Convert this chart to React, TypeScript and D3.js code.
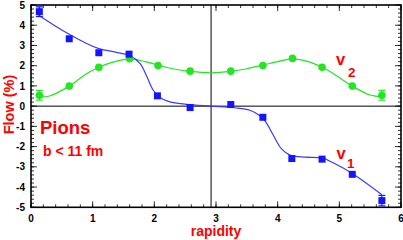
import React from "react";
import * as d3 from "d3";

const v1X = [0.135, 0.62, 1.1, 1.59, 2.05, 2.58, 3.24, 3.76, 4.23, 4.72, 5.21, 5.69];
const v1Y = [4.67, 3.33, 2.64, 2.57, 0.51, -0.07, 0.08, -0.55, -2.59, -2.62, -3.37, -4.67];
const v1Err = [0.24, 0.08, 0.08, 0.08, 0.08, 0.08, 0.08, 0.08, 0.08, 0.08, 0.08, 0.26];

const v2X = [0.135, 0.62, 1.1, 1.6, 2.06, 2.58, 3.24, 3.76, 4.24, 4.72, 5.21, 5.69];
const v2Y = [0.54, 0.99, 1.92, 2.34, 2.01, 1.73, 1.73, 2.01, 2.36, 1.92, 0.99, 0.54];
const v2Err = [0.24, 0.08, 0.08, 0.08, 0.08, 0.08, 0.08, 0.08, 0.08, 0.08, 0.08, 0.24];

const fit1X = [0.13, 0.4, 0.62, 0.9, 1.1, 1.4, 1.6, 1.77, 1.88, 1.98, 2.09, 2.25, 2.52, 2.92, 3.3, 3.55, 3.7, 3.8, 3.93, 4.06, 4.2, 4.45, 4.72, 4.9, 5.21, 5.69];
const fit1Y = [4.48, 3.95, 3.55, 3.1, 2.84, 2.65, 2.5, 2.1, 1.45, 0.8, 0.43, 0.21, 0.09, 0.0, -0.08, -0.2, -0.45, -0.75, -1.44, -2.1, -2.42, -2.52, -2.56, -2.8, -3.33, -4.38];

const fit2X = [0.13, 0.3, 0.62, 0.9, 1.1, 1.3, 1.6, 1.85, 2.06, 2.3, 2.58, 2.92, 3.24, 3.5, 3.76, 4.0, 4.24, 4.5, 4.72, 4.95, 5.21, 5.5, 5.69];
const fit2Y = [0.46, 0.5, 0.99, 1.6, 1.92, 2.15, 2.34, 2.2, 2.03, 1.85, 1.72, 1.65, 1.72, 1.85, 2.03, 2.2, 2.34, 2.2, 1.92, 1.52, 0.99, 0.55, 0.46];

const xTicks = [0, 1, 2, 3, 4, 5, 6];
const yTicks = [-5, -4, -3, -2, -1, 0, 1, 2, 3, 4, 5];
const midRapidity = 2.92;

const BLUE = "#1414ff";
const BLUE_LINE = "#3a3aff";
const GREEN = "#22e622";
const RED = "#ff0000";
const FONT = "'Liberation Sans', Arial, Helvetica, sans-serif";

export default function App() {
  const W = 403, H = 240;
  const x = d3.scaleLinear().domain([0, 6]).range([31, 401]);
  const y = d3.scaleLinear().domain([-5, 5]).range([207.3, 5]);
  const [x0, x1] = x.range();
  const [yb, yt] = y.range();

  const line = d3.line<[number, number]>().x(d => x(d[0])).y(d => y(d[1])).curve(d3.curveCatmullRom.alpha(0.5));
  const fit1 = fit1X.map((v, i) => [v, fit1Y[i]] as [number, number]);
  const fit2 = fit2X.map((v, i) => [v, fit2Y[i]] as [number, number]);

  const xMinor = d3.range(0, 6.0001, 0.2);
  const yMinor = d3.range(-5, 5.0001, 0.2);

  const errBar = (xv: number, yv: number, e: number, color: string, key: string) => {
    if (e < 0.15) return null;
    const cx = x(xv);
    return (
      <g key={key} stroke={color} strokeWidth={1.2}>
        <line x1={cx} x2={cx} y1={y(yv - e)} y2={y(yv + e)} />
        <line x1={cx - 3.5} x2={cx + 3.5} y1={y(yv - e)} y2={y(yv - e)} />
        <line x1={cx - 3.5} x2={cx + 3.5} y1={y(yv + e)} y2={y(yv + e)} />
      </g>
    );
  };

  return (
    <svg width={W} height={H} style={{ position: "absolute", left: 0, top: 0 }} fontFamily={FONT}>
      <rect x={0} y={0} width={W} height={H} fill="#fff" />
      <g stroke="#000" strokeWidth={0.8}>
        {xMinor.map((t, i) => (
          <g key={"xm" + i}>
            <line x1={x(t)} x2={x(t)} y1={yb} y2={yb - 3} />
            <line x1={x(t)} x2={x(t)} y1={yt} y2={yt + 3} />
          </g>
        ))}
        {yMinor.map((t, i) => (
          <g key={"ym" + i}>
            <line x1={x0} x2={x0 + 3} y1={y(t)} y2={y(t)} />
            <line x1={x1} x2={x1 - 3} y1={y(t)} y2={y(t)} />
          </g>
        ))}
        {xTicks.map(t => (
          <g key={"xM" + t}>
            <line x1={x(t)} x2={x(t)} y1={yb} y2={yb - 6} />
            <line x1={x(t)} x2={x(t)} y1={yt} y2={yt + 6} />
          </g>
        ))}
        {yTicks.map(t => (
          <g key={"yM" + t}>
            <line x1={x0} x2={x0 + 6} y1={y(t)} y2={y(t)} />
            <line x1={x1} x2={x1 - 6} y1={y(t)} y2={y(t)} />
          </g>
        ))}
      </g>
      <line x1={x0} x2={x1} y1={y(0)} y2={y(0)} stroke="#000" strokeWidth={1} />
      <line x1={x(midRapidity)} x2={x(midRapidity)} y1={yt} y2={yb} stroke="#000" strokeWidth={1} />
      <rect x={x0} y={yt} width={x1 - x0} height={yb - yt} fill="none" stroke="#000" strokeWidth={1.6} />

      <path d={line(fit2) || ""} fill="none" stroke={GREEN} strokeWidth={1.2} />
      <path d={line(fit1) || ""} fill="none" stroke={BLUE_LINE} strokeWidth={1.2} />

      {v2X.map((v, i) => errBar(v, v2Y[i], v2Err[i], GREEN, "e2" + i))}
      {v2X.map((v, i) => (
        <circle key={"p2" + i} cx={x(v)} cy={y(v2Y[i])} r={3.8} fill={GREEN} />
      ))}
      {v1X.map((v, i) => errBar(v, v1Y[i], v1Err[i], BLUE, "e1" + i))}
      {v1X.map((v, i) => (
        <rect key={"p1" + i} x={x(v) - 3.5} y={y(v1Y[i]) - 3.5} width={7} height={7} fill={BLUE} />
      ))}

      <g fontSize={10} fontWeight="bold" fill="#000">
        {yTicks.map(t => (
          <text key={"yl" + t} x={25} y={y(t) + 3.6} textAnchor="end">{t}</text>
        ))}
        {xTicks.map(t => (
          <text key={"xl" + t} x={x(t)} y={221.5} textAnchor="middle">{t}</text>
        ))}
      </g>

      <text x={x(3)} y={235.5} textAnchor="middle" fontSize={14} fontWeight="bold" fill={RED}>rapidity</text>
      <text transform="translate(13.5,104.5) rotate(-90)" textAnchor="middle" fontSize={14.5} fontWeight="bold" fill={RED}>Flow (%)</text>

      <text x={40} y={133.5} fontSize={18.5} fontWeight="bold" fill={RED}>Pions</text>
      <text x={43} y={156} fontSize={14} fontWeight="bold" fill={RED}>b &lt; 11 fm</text>

      <text x={336} y={65} fontSize={16.5} fontWeight="bold" fill={RED}>v</text>
      <text x={348} y={76.5} fontSize={13.5} fontWeight="bold" fill={RED}>2</text>
      <text x={336.5} y={159} fontSize={16.5} fontWeight="bold" fill={RED}>v</text>
      <text x={347} y={167.5} fontSize={13.5} fontWeight="bold" fill={RED}>1</text>
    </svg>
  );
}
